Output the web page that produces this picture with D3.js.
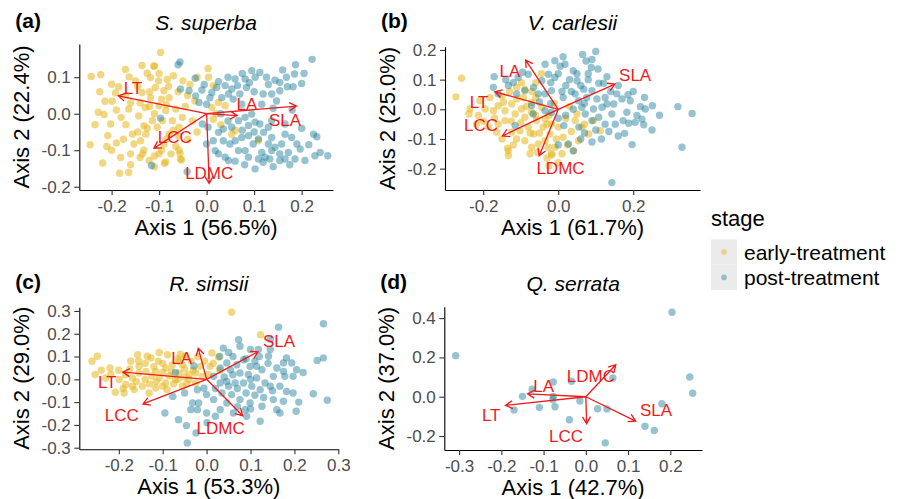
<!DOCTYPE html>
<html>
<head>
  <script src="https://d3js.org/d3.v7.min.js"></script>
  <style>
    body { margin: 0; background: #fff; }
    svg { font-family: "Liberation Sans", Arial, sans-serif; }
  </style>
</head>
<body>
  <div id="chart"></div>

  <script>
    // ---- data (PCA scores and trait loadings) ----
    var species = ["S. superba", "V. carlesii", "R. simsii", "Q. serrata"];
    var tags = ["(a)", "(b)", "(c)", "(d)"];
    var axis1Pct = ["56.5%", "61.7%", "53.3%", "42.7%"];
    var axis2Pct = ["22.4%", "25.0%", "29.0%", "37.0%"];
    var stages = ["early-treatment", "post-treatment"];
    var traits = ["LT", "LA", "SLA", "LCC", "LDMC"];

    var xTicksA = [-0.2, -0.1, 0, 0.1, 0.2], yTicksA = [-0.2, -0.1, 0, 0.1];
    var xTicksB = [-0.2, 0, 0.2], yTicksB = [-0.2, -0.1, 0, 0.1, 0.2];
    var xTicksC = [-0.2, -0.1, 0, 0.1, 0.2, 0.3], yTicksC = [-0.3, -0.2, -0.1, 0, 0.1, 0.2, 0.3];
    var xTicksD = [-0.3, -0.2, -0.1, 0, 0.1, 0.2], yTicksD = [-0.2, 0, 0.2, 0.4];

    // loadings (arrow tips) in trait order LT, LA, SLA, LCC, LDMC
    var loadA = [[-0.186,0.049],[0.064,-0.005],[0.189,0.021],[-0.111,-0.095],[0.0055,-0.191]];
    var loadB = [[-0.169,0.059],[-0.087,0.166],[0.151,0.085],[-0.149,-0.09],[-0.051,-0.157]];
    var loadC = [[-0.191,0.032],[-0.019,0.136],[0.117,0.121],[-0.145,-0.108],[0.082,-0.16]];
    var loadD = [[-0.19,-0.044],[-0.138,0.015],[0.118,-0.124],[0.002,-0.137],[0.071,0.163]];
    // where each trait name sits
    var labA = [[-0.155,0.071],[0.085,0.028],[0.165,-0.017],[-0.067,-0.063],[0.0055,-0.162]];
    var labB = [[-0.211,0.026],[-0.129,0.13],[0.205,0.115],[-0.206,-0.053],[0.006,-0.197]];
    var labC = [[-0.226,-0.01],[-0.057,0.096],[0.165,0.169],[-0.193,-0.157],[0.032,-0.215]];
    var labD = [[-0.224,-0.094],[-0.1,0.056],[0.166,-0.069],[-0.047,-0.199],[0.012,0.107]];

    var earlyA = [[-0.097,0.168],[-0.243,0.102],[-0.223,0.107],[-0.171,0.121],[-0.136,0.132],[-0.111,0.13],[-0.125,0.111],[-0.163,0.101],[-0.2,0.081],[-0.185,0.074],[-0.192,0.057],[-0.214,0.034],[-0.199,0.034],[-0.228,0.004],[-0.216,-0.002],[-0.235,-0.03],[-0.202,-0.028],[-0.208,-0.06],[-0.19,-0.08],[-0.219,-0.135],[-0.183,-0.163],[-0.164,-0.161],[-0.181,-0.12],[-0.153,-0.083],[-0.156,-0.056],[-0.132,-0.033],[-0.143,-0.006],[-0.164,0.013],[-0.129,0.017],[-0.118,0.044],[-0.136,0.058],[-0.108,0.072],[-0.09,0.063],[-0.079,0.044],[-0.083,0.094],[-0.101,0.09],[-0.07,0.104],[-0.118,0.099],[-0.104,-0.037],[-0.093,-0.019],[-0.114,-0.019],[-0.086,0.009],[-0.1,0.022],[-0.072,-0.019],[-0.058,-0.037],[-0.065,0.013],[-0.051,-0.01],[-0.079,-0.056],[-0.128,-0.056],[-0.139,-0.074],[-0.16,-0.11],[-0.135,-0.11],[-0.121,-0.128],[-0.086,-0.132],[-0.1,-0.11],[-0.132,-0.1],[-0.058,-0.1],[-0.055,-0.124],[-0.09,-0.083],[-0.11,0.131],[0.003,0.124],[0.004,0.1],[0.014,0.077],[0.025,0.031],[0.039,0.022],[0.011,0.017],[0.014,-0.015],[0.053,-0.056],[0.06,-0.046],[-0.02,0.1],[-0.035,0.08],[-0.04,0.05],[-0.025,0.035],[-0.045,0.02],[-0.03,-0.02],[-0.02,-0.05],[-0.04,-0.07],[-0.065,-0.09],[-0.075,-0.11],[-0.06,0.06],[-0.05,0.09],[-0.15,0.09],[-0.17,0.05],[-0.16,0.03],[-0.14,0.03],[-0.12,0.02],[-0.11,0.0],[-0.125,-0.04],[-0.145,-0.05],[-0.17,-0.03],[-0.18,-0.01],[-0.19,0.01],[-0.175,-0.07],[-0.2,-0.1],[-0.16,-0.14],[-0.14,-0.12],[-0.11,-0.145],[-0.095,-0.1],[-0.085,-0.07],[-0.07,-0.045],[-0.06,-0.06],[-0.12,0.06],[-0.095,0.04],[-0.085,0.025],[-0.145,0.075],[-0.1,0.11],[-0.08,0.075],[-0.225,0.06],[-0.245,-0.085],[-0.21,-0.09],[0.02,0.0],[0.03,-0.03],[0.109,-0.074],[-0.089,-0.136],[-0.11,-0.116],[-0.056,-0.109],[-0.053,-0.127]];
    var postA = [[-0.06,0.134],[-0.024,0.097],[-0.055,0.068],[-0.037,0.063],[-0.023,0.049],[-0.016,0.031],[0.0,0.026],[-0.097,-0.012],[-0.116,-0.142],[-0.041,-0.159],[0.0,-0.083],[-0.009,-0.028],[-0.056,0.142],[-0.01,0.065],[-0.005,0.08],[0.222,0.149],[0.187,0.134],[0.185,0.109],[0.168,0.1],[0.2,0.083],[0.182,0.074],[0.17,0.074],[0.154,0.086],[0.144,0.092],[0.126,0.1],[0.112,0.113],[0.095,0.118],[0.102,0.1],[0.081,0.095],[0.084,0.072],[0.065,0.077],[0.07,0.054],[0.053,0.068],[0.046,0.054],[0.039,0.077],[0.025,0.088],[0.021,0.072],[0.011,0.058],[0.007,0.044],[0.032,0.044],[0.056,0.04],[0.074,0.026],[0.119,0.054],[0.137,0.054],[0.154,0.063],[0.147,0.035],[0.116,0.026],[0.095,-0.001],[0.081,-0.01],[0.102,-0.023],[0.067,-0.019],[0.053,-0.037],[0.035,-0.042],[0.025,-0.051],[0.035,-0.074],[0.049,-0.083],[0.06,-0.074],[0.074,-0.065],[0.088,-0.06],[0.098,-0.083],[0.109,-0.069],[0.12,-0.051],[0.13,-0.037],[0.137,-0.065],[0.13,-0.083],[0.144,-0.092],[0.158,-0.083],[0.165,-0.056],[0.179,-0.065],[0.19,-0.083],[0.197,-0.097],[0.172,-0.106],[0.154,-0.11],[0.137,-0.101],[0.116,-0.106],[0.109,-0.124],[0.123,-0.119],[0.133,-0.124],[0.154,-0.128],[0.165,-0.124],[0.186,-0.124],[0.207,-0.128],[0.225,-0.056],[0.232,-0.063],[0.239,-0.106],[0.228,-0.115],[0.255,-0.115],[0.102,-0.151],[0.119,-0.133],[0.088,-0.119],[0.081,-0.101],[0.067,-0.101],[0.046,-0.128],[0.039,-0.119],[0.018,-0.101],[0.014,-0.074],[0.003,-0.037],[0.112,-0.028],[0.137,-0.019],[0.165,-0.028],[0.088,-0.032],[0.06,0.095],[0.09,0.085],[0.13,0.08],[0.16,0.12],[0.205,0.11],[0.1,0.06],[0.075,0.11],[0.045,0.1],[0.14,0.015],[0.18,0.01],[0.2,-0.04],[0.215,-0.085],[0.1,-0.05],[0.075,-0.045],[0.045,-0.02],[0.06,-0.13],[0.08,-0.14],[0.14,-0.145],[0.175,-0.14],[0.03,0.0],[0.025,-0.11]];

    var earlyB = [[-0.258,0.105],[-0.273,0.042],[-0.235,0.001],[-0.238,-0.016],[-0.213,-0.021],[-0.218,-0.05],[-0.186,-0.06],[-0.164,-0.077],[-0.173,-0.005],[-0.16,0.012],[-0.142,-0.005],[-0.124,0.018],[-0.115,-0.016],[-0.098,0.001],[-0.089,-0.027],[-0.071,-0.01],[-0.058,-0.038],[-0.08,-0.06],[-0.102,-0.072],[-0.124,-0.077],[-0.111,-0.1],[-0.089,-0.106],[-0.066,-0.083],[-0.133,-0.14],[-0.133,-0.156],[-0.071,-0.128],[-0.053,-0.117],[-0.035,-0.106],[-0.027,-0.128],[-0.018,-0.15],[-0.009,-0.128],[-0.022,-0.083],[-0.04,-0.06],[-0.035,-0.033],[-0.018,-0.049],[-0.071,0.023],[-0.093,0.04],[-0.111,0.074],[-0.089,0.068],[-0.098,0.09],[-0.146,0.024],[-0.195,0.001],[-0.209,0.029],[-0.182,0.04],[-0.044,0.007],[-0.16,-0.05],[-0.142,-0.038],[0.05,-0.016],[0.045,-0.038],[0.063,-0.06],[0.081,-0.083],[0.112,-0.072],[0.054,-0.106],[0.041,-0.14],[0.094,-0.038],[0.013,-0.094],[0.0,-0.06],[0.02,-0.03],[0.025,-0.12],[-0.005,-0.1],[0.01,-0.15],[-0.03,-0.165],[-0.055,-0.145],[-0.075,-0.15],[-0.12,-0.12],[-0.15,-0.1],[-0.2,-0.04],[-0.17,-0.03],[-0.125,-0.04],[-0.1,-0.045],[-0.075,-0.08],[-0.05,-0.08],[-0.03,-0.05],[-0.06,0.04],[-0.07,0.06],[-0.13,0.06],[-0.15,0.045],[-0.11,0.035],[-0.085,0.01],[-0.06,-0.02],[-0.025,-0.02],[-0.01,0.02],[0.03,0.01],[0.07,-0.05],[0.035,-0.075],[-0.045,0.12],[-0.06,0.09],[0.0,-0.18],[-0.025,-0.19],[-0.135,-0.131],[-0.018,-0.154]];
    var postB = [[-0.171,0.11],[-0.173,0.074],[-0.16,0.052],[-0.133,0.08],[-0.107,0.107],[-0.08,0.118],[-0.035,0.152],[-0.009,0.164],[0.013,0.177],[0.018,0.152],[-0.026,0.118],[-0.044,0.096],[-0.009,0.107],[-0.066,0.074],[-0.089,0.063],[-0.111,0.052],[-0.071,0.013],[-0.053,0.052],[-0.035,0.052],[-0.018,0.063],[0.013,0.04],[-0.035,-0.005],[-0.115,-0.055],[-0.067,-0.016],[-0.018,-0.011],[0.027,-0.117],[0.1,0.195],[0.074,0.163],[0.09,0.168],[0.088,0.141],[0.106,0.136],[0.05,0.096],[0.108,0.088],[0.121,0.088],[0.068,0.068],[0.09,0.063],[0.045,0.052],[0.054,0.029],[0.076,0.04],[0.103,0.035],[0.125,0.04],[0.156,0.052],[0.186,0.049],[0.17,0.035],[0.192,0.029],[0.148,0.018],[0.13,0.018],[0.117,0.007],[0.094,0.001],[0.063,0.007],[0.219,0.009],[0.232,0.001],[0.251,0.012],[0.319,0.009],[0.357,-0.014],[0.183,-0.01],[0.143,-0.016],[0.21,-0.021],[0.223,-0.033],[0.205,-0.044],[0.228,-0.052],[0.188,-0.047],[0.173,-0.038],[0.177,-0.081],[0.197,-0.119],[0.33,-0.128],[0.143,-0.247],[0.125,-0.05],[0.108,-0.027],[0.09,-0.038],[0.072,-0.016],[0.152,-0.05],[0.0,0.12],[0.03,0.1],[0.02,0.08],[0.035,0.06],[0.01,0.06],[-0.02,0.09],[0.05,0.12],[0.06,0.08],[0.08,0.1],[0.07,0.02],[0.04,0.0],[0.02,-0.02],[0.0,-0.03],[0.055,-0.06],[0.07,-0.08],[0.1,-0.07],[0.135,-0.075],[0.16,-0.09],[0.115,-0.1],[0.09,-0.11],[0.06,-0.1],[0.2,0.06],[0.23,0.04],[0.16,0.08],[0.13,0.11],[-0.02,0.02],[-0.05,0.025],[-0.12,0.09],[-0.095,0.125],[-0.14,0.1],[0.015,-0.055],[0.04,0.13],[0.005,0.145],[0.065,0.185],[0.08,0.12],[0.14,0.06],[0.27,-0.02],[0.25,-0.07],[0.04,-0.14],[0.0,-0.12]];

    var earlyC = [[-0.249,0.101],[-0.261,0.079],[-0.254,0.021],[-0.23,0.006],[-0.208,-0.057],[-0.188,-0.06],[-0.184,-0.023],[-0.199,-0.001],[-0.169,0.006],[-0.173,0.079],[-0.157,0.108],[-0.135,0.101],[-0.127,0.094],[-0.108,0.118],[-0.089,0.108],[-0.154,0.057],[-0.138,0.035],[-0.116,0.035],[-0.093,0.05],[-0.078,0.064],[-0.063,0.079],[-0.048,0.101],[-0.055,0.064],[-0.108,0.006],[-0.093,-0.016],[-0.071,-0.001],[-0.055,-0.03],[-0.04,-0.001],[-0.025,-0.016],[-0.146,-0.03],[-0.131,-0.06],[-0.116,-0.038],[-0.169,-0.03],[-0.063,0.028],[-0.025,0.028],[-0.014,0.057],[-0.01,0.013],[-0.154,0.028],[-0.218,0.021],[0.057,0.294],[0.123,0.196],[0.012,0.116],[0.027,0.098],[0.008,0.057],[0.004,0.021],[-0.2,0.04],[-0.185,0.02],[-0.175,0.045],[-0.16,-0.01],[-0.14,0.0],[-0.125,0.015],[-0.12,0.055],[-0.1,0.07],[-0.1,0.03],[-0.085,0.015],[-0.08,0.035],[-0.075,-0.02],[-0.065,0.0],[-0.05,0.045],[-0.04,0.02],[-0.035,0.08],[-0.03,0.04],[-0.02,0.1],[-0.005,0.08],[-0.13,-0.02],[-0.115,-0.01],[-0.1,-0.03],[-0.09,-0.045],[-0.155,0.08],[-0.14,0.07],[-0.22,0.05],[-0.24,0.04],[-0.19,-0.04],[-0.05,0.01],[-0.065,0.09],[0.015,0.07],[0.03,0.04],[-0.045,-0.02],[-0.165,-0.045],[-0.06,0.11],[-0.11,0.08]];
    var postC = [[-0.071,0.03],[-0.029,0.059],[-0.006,-0.039],[-0.021,-0.046],[0.0,-0.067],[-0.077,-0.075],[-0.095,-0.148],[-0.064,-0.177],[-0.032,-0.104],[-0.036,-0.133],[-0.021,-0.133],[-0.018,-0.104],[0.0,-0.148],[-0.046,-0.203],[-0.024,-0.235],[-0.044,-0.279],[0.001,-0.19],[0.266,0.244],[0.164,0.229],[0.145,0.176],[0.073,0.174],[0.076,0.145],[0.038,0.137],[0.05,0.118],[0.1,0.131],[0.118,0.131],[0.145,0.131],[0.141,0.101],[0.182,0.094],[0.175,0.072],[0.194,0.072],[0.205,0.042],[0.175,0.035],[0.152,0.013],[0.178,0.013],[0.197,0.013],[0.266,0.094],[0.252,0.083],[0.084,0.086],[0.069,0.064],[0.099,0.057],[0.114,0.057],[0.126,0.042],[0.046,0.072],[0.031,0.05],[0.054,0.042],[0.076,0.028],[0.095,0.021],[0.114,0.006],[0.133,-0.016],[0.046,-0.009],[0.031,-0.016],[0.016,0.013],[0.065,-0.016],[0.084,-0.016],[0.103,-0.03],[0.122,-0.046],[0.145,-0.03],[0.167,-0.03],[0.182,-0.053],[0.197,-0.06],[0.152,-0.089],[0.175,-0.096],[0.16,-0.133],[0.167,-0.148],[0.204,-0.14],[0.243,-0.063],[0.275,-0.092],[0.126,-0.118],[0.099,-0.104],[0.088,-0.133],[0.076,-0.089],[0.057,-0.067],[0.035,-0.06],[0.046,-0.104],[0.031,-0.133],[0.061,-0.148],[0.091,-0.162],[0.122,-0.184],[0.016,-0.089],[0.02,-0.162],[0.06,0.1],[0.09,0.09],[0.11,0.08],[0.06,0.02],[0.04,0.01],[0.1,0.0],[0.07,-0.04],[0.09,-0.06],[0.11,-0.07],[0.13,-0.08],[0.05,-0.03],[0.02,-0.04],[0.1,-0.13],[0.07,-0.12],[0.15,-0.05],[0.14,0.07],[0.16,0.05],[0.12,0.1],[0.03,0.1],[0.22,0.03],[0.21,-0.1],[-0.05,-0.06]];

    var earlyD = [];
    var postD = [[-0.308,0.209],[0.204,0.43],[0.246,0.1],[0.253,0.018],[0.18,-0.036],[0.14,-0.15],[0.162,-0.172],[0.046,-0.235],[0.05,-0.062],[0.028,-0.061],[0.064,0.095],[-0.034,0.079],[-0.014,-0.022],[-0.039,-0.117],[-0.077,0.075],[-0.077,0.002],[-0.078,-0.015],[-0.073,-0.051],[-0.11,-0.054],[-0.15,0.002],[-0.127,0.038],[-0.17,-0.067]];

    // ---- layout ----
    var W = 901, H = 499;
    var colEarly = "#E5B71C", colPost = "#1F7F9A";
    var arrowCol = "#ee1c1c";
    var fmt = function(d) { return d.toFixed(1); };

    var panels = [
      { i: 0, x0: 79.3, x1: 333, y0: 44, y1: 190, xdom: [-0.268, 0.266], ydom: [-0.209, 0.191], xt: xTicksA, yt: yTicksA, early: earlyA, post: postA, load: loadA, lab: labA, titleY: 30 },
      { i: 1, x0: 445, x1: 700, y0: 46.7, y1: 190, xdom: [-0.302, 0.378], ydom: [-0.272, 0.211], xt: xTicksB, yt: yTicksB, early: earlyB, post: postB, load: loadB, lab: labB, titleY: 30 },
      { i: 2, x0: 79.3, x1: 338.3, y0: 307.3, y1: 449.3, xdom: [-0.29, 0.3], ydom: [-0.307, 0.316], xt: xTicksC, yt: yTicksC, early: earlyC, post: postC, load: loadC, lab: labC, titleY: 291 },
      { i: 3, x0: 444.3, x1: 702, y0: 306.7, y1: 450, xdom: [-0.335, 0.275], ydom: [-0.271, 0.458], xt: xTicksD, yt: yTicksD, early: earlyD, post: postD, load: loadD, lab: labD, titleY: 291 }
    ];

    var svg = d3.select("#chart").append("svg")
      .attr("width", W)
      .attr("height", H);

    svg.append("rect").attr("width", W).attr("height", H).attr("fill", "#fff");

    panels.forEach(function(p) {
      var x = d3.scaleLinear().domain(p.xdom).range([p.x0, p.x1]);
      var y = d3.scaleLinear().domain(p.ydom).range([p.y1, p.y0]);
      var g = svg.append("g");

      // scores
      g.selectAll(".early").data(p.early).enter().append("circle")
        .attr("cx", function(d) { return x(d[0]); })
        .attr("cy", function(d) { return y(d[1]); })
        .attr("r", 3.7)
        .attr("fill", colEarly)
        .attr("fill-opacity", 0.55);

      g.selectAll(".post").data(p.post).enter().append("circle")
        .attr("cx", function(d) { return x(d[0]); })
        .attr("cy", function(d) { return y(d[1]); })
        .attr("r", 3.7)
        .attr("fill", colPost)
        .attr("fill-opacity", 0.47);

      // loading arrows
      p.load.forEach(function(d) {
        var sx = x(0), sy = y(0), ex = x(d[0]), ey = y(d[1]);
        var a = Math.atan2(ey - sy, ex - sx), hl = 8, ha = Math.PI / 6;
        var path = "M" + sx + "," + sy + "L" + ex + "," + ey +
          "M" + (ex - hl * Math.cos(a - ha)) + "," + (ey - hl * Math.sin(a - ha)) +
          "L" + ex + "," + ey +
          "L" + (ex - hl * Math.cos(a + ha)) + "," + (ey - hl * Math.sin(a + ha));
        g.append("path").attr("d", path)
          .attr("fill", "none")
          .attr("stroke", arrowCol)
          .attr("stroke-width", 1.3);
      });

      g.selectAll(".trait").data(p.lab).enter().append("text")
        .attr("x", function(d) { return x(d[0]); })
        .attr("y", function(d) { return y(d[1]); })
        .attr("dy", "0.36em")
        .attr("text-anchor", "middle")
        .style("font-size", "17px")
        .style("fill", arrowCol)
        .text(function(d, i) { return traits[i]; });

      // axes
      var xa = g.append("g")
        .attr("transform", "translate(0," + p.y1 + ")")
        .call(d3.axisBottom(x).tickValues(p.xt).tickFormat(fmt).tickSize(5).tickSizeOuter(0).tickPadding(5));
      var ya = g.append("g")
        .attr("transform", "translate(" + p.x0 + ",0)")
        .call(d3.axisLeft(y).tickValues(p.yt).tickFormat(fmt).tickSize(5).tickSizeOuter(0).tickPadding(3.5));
      [xa, ya].forEach(function(ax) {
        ax.select(".domain").attr("stroke", "#000").attr("stroke-width", 1.1);
        ax.selectAll(".tick line").attr("stroke", "#333").attr("stroke-width", 1.1);
        ax.selectAll(".tick text")
          .style("font-size", "17px")
          .style("font-family", "Liberation Sans, Arial, sans-serif")
          .attr("fill", "#4d4d4d");
      });

      // titles
      g.append("text")
        .attr("x", (p.x0 + p.x1) / 2)
        .attr("y", p.titleY)
        .attr("text-anchor", "middle")
        .style("font-size", "21px")
        .style("font-style", "italic")
        .text(species[p.i]);

      g.append("text")
        .attr("x", p.x0 - 64)
        .attr("y", p.titleY - 2)
        .style("font-size", "21px")
        .style("font-weight", "bold")
        .text(tags[p.i]);

      g.append("text")
        .attr("x", (p.x0 + p.x1) / 2)
        .attr("y", p.y1 + 45)
        .attr("text-anchor", "middle")
        .style("font-size", "22px")
        .text("Axis 1 (" + axis1Pct[p.i] + ")");

      g.append("text")
        .attr("transform", "translate(" + (p.x0 - 50) + "," + ((p.y0 + p.y1) / 2) + ") rotate(-90)")
        .attr("text-anchor", "middle")
        .style("font-size", "22px")
        .text("Axis 2 (" + axis2Pct[p.i] + ")");
    });

    // legend
    var leg = svg.append("g").attr("transform", "translate(711,0)");
    leg.append("text").attr("x", 0).attr("y", 226).style("font-size", "22px").text("stage");
    stages.forEach(function(s, i) {
      var ky = 239.3 + i * 25.4;
      leg.append("rect").attr("x", 0).attr("y", ky).attr("width", 26).attr("height", 25.4).attr("fill", "#ebebeb");
      leg.append("circle").attr("cx", 13).attr("cy", ky + 12.7).attr("r", 2.8)
        .attr("fill", i === 0 ? colEarly : colPost)
        .attr("fill-opacity", i === 0 ? 0.5 : 0.42);
      leg.append("text").attr("x", 33).attr("y", ky + 12.7).attr("dy", "0.36em")
        .style("font-size", "21px").text(s);
    });
  </script>
</body>
</html>
